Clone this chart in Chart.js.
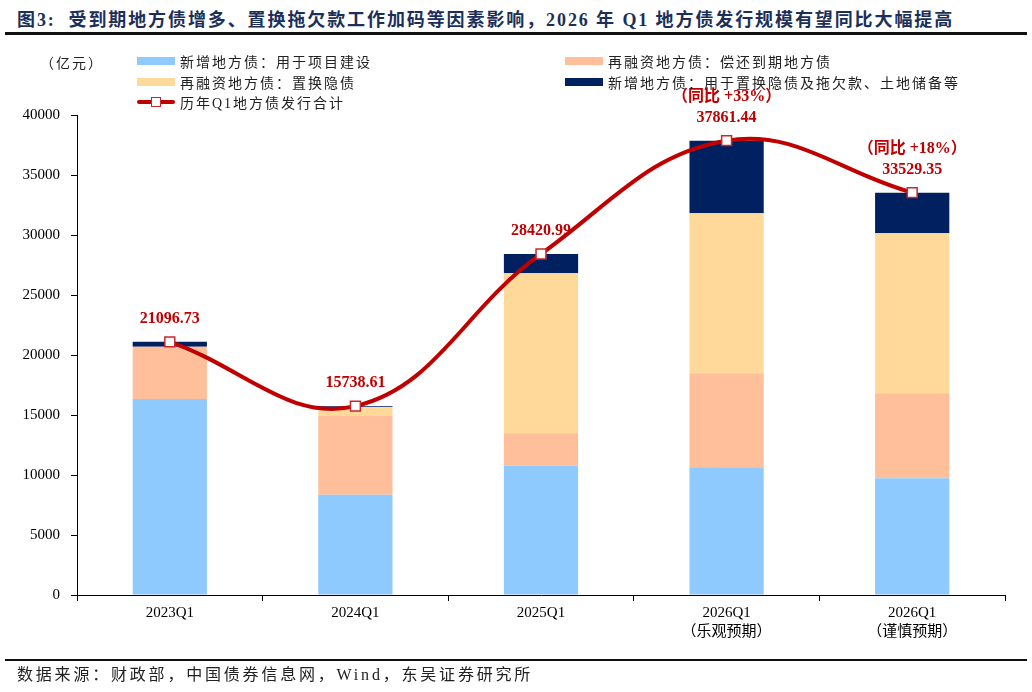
<!DOCTYPE html>
<html>
<head>
<meta charset="utf-8">
<script src="https://cdn.jsdelivr.net/npm/chart.js@4.4.1/dist/chart.umd.min.js"></script>
<style>
  body { margin: 0; background: #fff; }
  #wrap { position: relative; width: 1032px; height: 692px; overflow: hidden;
    font-family: 'Liberation Serif', 'Noto Sans CJK SC', serif; }
  #myChart { position: absolute; left: 0; top: 0; }
  .title { position: absolute; left: 17px; top: 5px; font-size: 18px; font-weight: bold;
    color: #1c2f5a; letter-spacing: 1.9px; white-space: nowrap; }
  .rule { position: absolute; left: 5px; width: 1022px; background: #111; }
  .unit { position: absolute; left: 40px; top: 52px; font-size: 14px; color: #222; letter-spacing: 2px; }
  .legend-item { position: absolute; font-size: 14px; color: #222; letter-spacing: 2px; white-space: nowrap;
    display: flex; align-items: center; height: 20px; }
  .swatch { width: 38px; height: 8px; margin-right: 5px; }
  .source { position: absolute; left: 17px; top: 661px; font-size: 16px; color: #222; letter-spacing: 2.8px; white-space: nowrap; }
</style>
</head>
<body>
<div id="wrap">
  <div class="title">图3:&nbsp; 受到期地方债增多、置换拖欠款工作加码等因素影响，2026 年 Q1 地方债发行规模有望同比大幅提高</div>
  <div class="rule" style="top:32px;height:3px;"></div>
  <canvas id="myChart" width="1032" height="692"></canvas>
  <div class="unit">（亿元）</div>
  <div id="legend"></div>
  <div class="rule" style="top:659px;height:1.5px;"></div>
  <div class="source">数据来源：财政部，中国债券信息网，Wind，东吴证券研究所</div>
</div>
<script>
'use strict';

// data (亿元)
let categories = [['2023Q1'], ['2024Q1'], ['2025Q1'], ['2026Q1', '（乐观预期）'], ['2026Q1', '（谨慎预期）']];
let newProject = [16330, 8360, 10780, 10640, 9720];
let refiMaturing = [4360, 6560, 2690, 7830, 7090];
let refiHidden = [0, 750, 13340, 13340, 13330];
let newSwap = [407, 69, 1611, 6051, 3389];
let totals = [21096.73, 15738.61, 28420.99, 37861.44, 33529.35];
let yoyLabels = ['', '', '', '（同比 +33%）', '（同比 +18%）'];

let seriesNames = [
  '新增地方债：用于项目建设',
  '再融资地方债：偿还到期地方债',
  '再融资地方债：置换隐债',
  '新增地方债：用于置换隐债及拖欠款、土地储备等',
  '历年Q1地方债发行合计'
];
let seriesColors = ['#8ecafd', '#ffbf9b', '#ffd999', '#002060', '#c00000'];

let fontFamily = "'Liberation Serif', 'Noto Sans CJK SC', serif";

// legend in the same 2-column layout as the picture
let legendSpots = [[137, 51], [565, 51], [137, 72], [565, 72], [137, 92]];
let legendBox = document.getElementById('legend');
for (let i = 0; i < seriesNames.length; i++) {
  let item = document.createElement('div');
  item.className = 'legend-item';
  item.style.left = legendSpots[i][0] + 'px';
  item.style.top = legendSpots[i][1] + 'px';
  let sw;
  if (i < 4) {
    sw = '<span class="swatch" style="background:' + seriesColors[i] + '"></span>';
  } else {
    sw = '<span style="position:relative;width:38px;height:10px;margin-right:5px;display:inline-block">' +
      '<span style="position:absolute;left:0;top:3px;width:38px;height:4px;background:' + seriesColors[4] + ';border-radius:2px"></span>' +
      '<span style="position:absolute;left:14px;top:0;width:8px;height:8px;background:#fff;border:1.5px solid #c8282d"></span></span>';
  }
  item.innerHTML = sw + '<span>' + seriesNames[i] + '</span>';
  legendBox.appendChild(item);
}

// total + yoy labels over the line points (drawn before the line, like the picture)
let totalLabels = {
  id: 'totalLabels',
  beforeDatasetsDraw(chart) {
    let ctx = chart.ctx;
    let meta = chart.getDatasetMeta(4);
    ctx.save();
    ctx.fillStyle = '#c00000';
    ctx.textAlign = 'center';
    ctx.textBaseline = 'middle';
    ctx.font = 'bold 16px ' + fontFamily;
    for (let i = 0; i < meta.data.length; i++) {
      let pt = meta.data[i];
      ctx.fillText(totals[i].toFixed(2), pt.x, pt.y - 23);
      if (yoyLabels[i]) {
        ctx.fillText(yoyLabels[i], pt.x, pt.y - 44);
      }
    }
    ctx.restore();
  }
};

let barOpts = { stack: 'bars', order: 1, barPercentage: 0.4, categoryPercentage: 1, borderWidth: 0 };

let chartObject = {
  type: 'bar',
  data: {
    labels: categories,
    datasets: [
      Object.assign({ label: seriesNames[0], data: newProject, backgroundColor: seriesColors[0] }, barOpts),
      Object.assign({ label: seriesNames[1], data: refiMaturing, backgroundColor: seriesColors[1] }, barOpts),
      Object.assign({ label: seriesNames[2], data: refiHidden, backgroundColor: seriesColors[2] }, barOpts),
      Object.assign({ label: seriesNames[3], data: newSwap, backgroundColor: seriesColors[3] }, barOpts),
      {
        type: 'line',
        label: seriesNames[4],
        data: totals,
        stack: 'total',
        order: 0,
        borderColor: seriesColors[4],
        borderWidth: 4,
        tension: 0.4,
        pointStyle: 'rect',
        pointRadius: 7,
        pointBackgroundColor: '#fff',
        pointBorderColor: '#c8282d',
        pointBorderWidth: 1.5,
        clip: false
      }
    ]
  },
  options: {
    responsive: false,
    animation: false,
    layout: { padding: { left: 0, right: 27, top: 115, bottom: 37 } },
    plugins: {
      legend: { display: false },
      tooltip: { enabled: false }
    },
    scales: {
      x: {
        stacked: true,
        grid: { offset: true, drawOnChartArea: false, tickLength: 6, color: '#000' },
        border: { color: '#000', width: 1 },
        ticks: { color: '#000', padding: 2, font: { family: fontFamily, size: 15, lineHeight: 1.3 } },
        afterFit(scale) { scale.height = 60; }
      },
      y: {
        stacked: true,
        min: 0,
        max: 40000,
        grid: { drawOnChartArea: false, tickLength: 6, color: '#000' },
        border: { color: '#000', width: 1 },
        ticks: {
          stepSize: 5000,
          color: '#000',
          padding: 11,
          font: { family: fontFamily, size: 15 },
          callback: function (value) { return String(value); }
        },
        afterFit(scale) { scale.width = 77; }
      }
    }
  },
  plugins: [totalLabels]
};

let ctx = document.getElementById('myChart').getContext('2d');
let myChart = new Chart(ctx, chartObject);
</script>
</body>
</html>
